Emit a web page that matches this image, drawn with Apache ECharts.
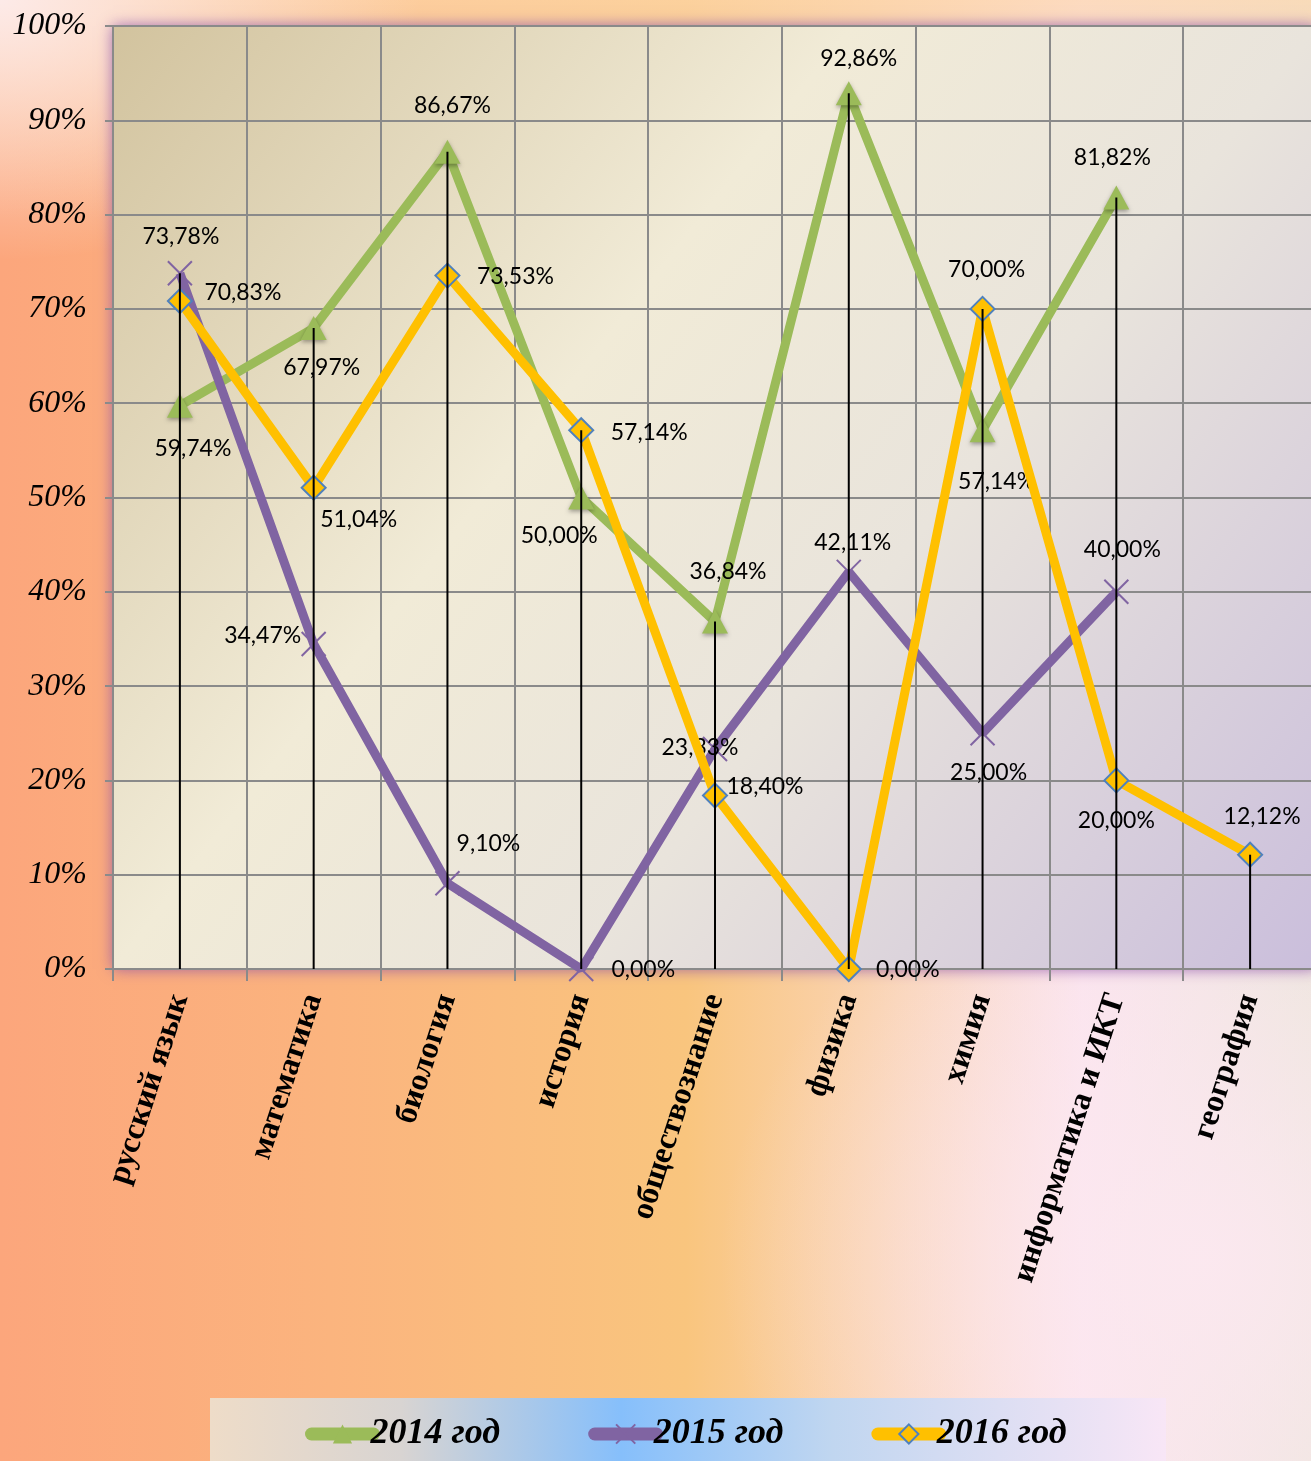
<!DOCTYPE html>
<html>
<head>
<meta charset="utf-8">
<script src="https://cdn.jsdelivr.net/npm/echarts@6/dist/echarts.min.js"></script>
<style>
html,body{margin:0;padding:0;overflow:hidden;width:1311px;height:1461px;}
#c{width:1320px;height:1461px;
background:
 radial-gradient(ellipse 420px 260px at 0px 0px, rgba(253,236,236,0.95), rgba(253,236,236,0) 100%),
 radial-gradient(ellipse 480px 420px at 1200px 1260px, rgba(252,232,240,0.9), rgba(252,232,240,0) 100%),
 linear-gradient(to bottom, rgba(253,214,170,0.7) 0%, rgba(253,214,170,0) 15%),
 linear-gradient(to right, #FCA67C 0%, #FBB47E 25%, #F9C57E 52%, #FAD3B0 66%, #FBE4EE 82%, #ECE6DC 100%);
}
</style>
</head>
<body>
<div id="c"></div>
<script>
const categories = ['русский язык','математика','биология','история','обществознание','физика','химия','информатика и ИКТ','география'];
const seriesNames = ['2014 год','2015 год','2016 год'];
const values2014 = [59.74, 67.97, 86.67, 50.00, 36.84, 92.86, 57.14, 81.82, null];
const values2015 = [73.78, 34.47, 9.10, 0.00, 23.33, 42.11, 25.00, 40.00, null];
const values2016 = [70.83, 51.04, 73.53, 57.14, 18.40, 0.00, 70.00, 20.00, 12.12];
const yTicks = [0,10,20,30,40,50,60,70,80,90,100];

// label offsets (style only)
const off2014 = [[13,43],[8,40],[5,-46],[-22,38],[13,-50],[10,-35],[14,51],[-4,-40],[0,0]];
const off2015 = [[1,-37],[-51,-8],[41,-40],[62,1],[-15,-1],[4,-29],[6,39],[6,-42],[0,0]];
const off2016 = [[63,-8],[45,32],[68,1],[68,2],[50,-9],[59,1],[4,-39],[0,40],[12,-38]];

const fmt = v => v.toFixed(2).replace('.', ',') + '%';
function mk(vals, offs){
  return vals.map((v,i)=> v===null ? null : ({value:v, label:{offset:offs[i]}}));
}
const dropTops = categories.map((c,i)=>{
  const arr=[values2014[i],values2015[i],values2016[i]].filter(v=>v!==null);
  return Math.max.apply(null, arr);
});

const labelBase = {show:true, position:'inside', color:'#000', fontFamily:'Lato', fontSize:23,
  formatter: p => fmt(p.value)};
const grey = '#8a8a8a';
const chart = echarts.init(document.getElementById('c'));
chart.setOption({
  animation:false,
  backgroundColor:'transparent',
  graphic:[{type:'rect', left:210, top:1398, shape:{width:956, height:70}, z:-1,
    style:{fill:new echarts.graphic.LinearGradient(0,0,1,0,[
      {offset:0,color:'#EEDCC8'},{offset:0.2,color:'#D8D4D2'},{offset:0.43,color:'#86BFFB'},
      {offset:0.65,color:'#C0D6F0'},{offset:1,color:'#F8E6F6'}])}}],
  grid:{left:113, top:26, right:3, bottom:492, show:true, borderWidth:0,
    backgroundColor:new echarts.graphic.LinearGradient(0,0,1,1,[
      {offset:0,color:'#D2C39E'},{offset:0.38,color:'#F1EBD7'},{offset:0.62,color:'#E9E4DC'},{offset:1,color:'#CABEDC'}]),
    shadowColor:'rgba(140,80,170,0.85)', shadowBlur:14},
  legend:{left:300, top:1411, itemWidth:62, itemHeight:24, itemGap:88,
    data:seriesNames,
    lineStyle:{width:13, cap:'round'},
    textStyle:{fontFamily:'Liberation Serif', fontStyle:'italic', fontWeight:'bold', fontSize:36, color:'#000', padding:[0,0,0,-8]}},
  xAxis:{type:'category', data:categories, boundaryGap:true,
    axisLine:{lineStyle:{color:grey, width:2}},
    axisTick:{show:true, length:12, lineStyle:{color:grey, width:2}},
    splitLine:{show:true, lineStyle:{color:grey, width:2}},
    axisLabel:{interval:0, rotate:72, margin:26, color:'#000', fontFamily:'Liberation Serif', fontWeight:'bold', fontSize:32}},
  yAxis:{type:'value', min:0, max:100, interval:10,
    axisLine:{show:true, lineStyle:{color:grey, width:2}},
    axisTick:{show:true, length:8, lineStyle:{color:grey, width:2}},
    splitLine:{show:true, lineStyle:{color:grey, width:2}},
    axisLabel:{formatter:'{value}%', margin:26, color:'#000', fontFamily:'Liberation Serif', fontStyle:'italic', fontSize:32}},
  series:[
    {name:'2014 год', type:'line', data:mk(values2014, off2014), connectNulls:false,
      symbol:'triangle', symbolSize:[26,24], z:2,
      lineStyle:{color:'#9BBB59', width:9},
      itemStyle:{color:'#9BBB59', shadowColor:'rgba(0,0,0,0.35)', shadowBlur:4, shadowOffsetY:2},
      label:labelBase},
    {name:'2015 год', type:'line', data:mk(values2015, off2015),
      symbol:'path://M0,0 L10,10 M10,0 L0,10', symbolSize:24, z:3,
      lineStyle:{color:'#8064A2', width:9},
      itemStyle:{color:'rgba(0,0,0,0)', borderColor:'#8064A2', borderWidth:2},
      label:labelBase},
    {name:'2016 год', type:'line', data:mk(values2016, off2016),
      symbol:'diamond', symbolSize:24, z:4,
      lineStyle:{color:'#FFC000', width:9},
      itemStyle:{color:'#FFC000', borderColor:'#4F81BD', borderWidth:2},
      label:labelBase},
    {name:'drop', type:'bar', data:dropTops, barWidth:2, z:5, silent:true,
      itemStyle:{color:'#000'}, label:{show:false}}
  ]
});
</script>
</body>
</html>
